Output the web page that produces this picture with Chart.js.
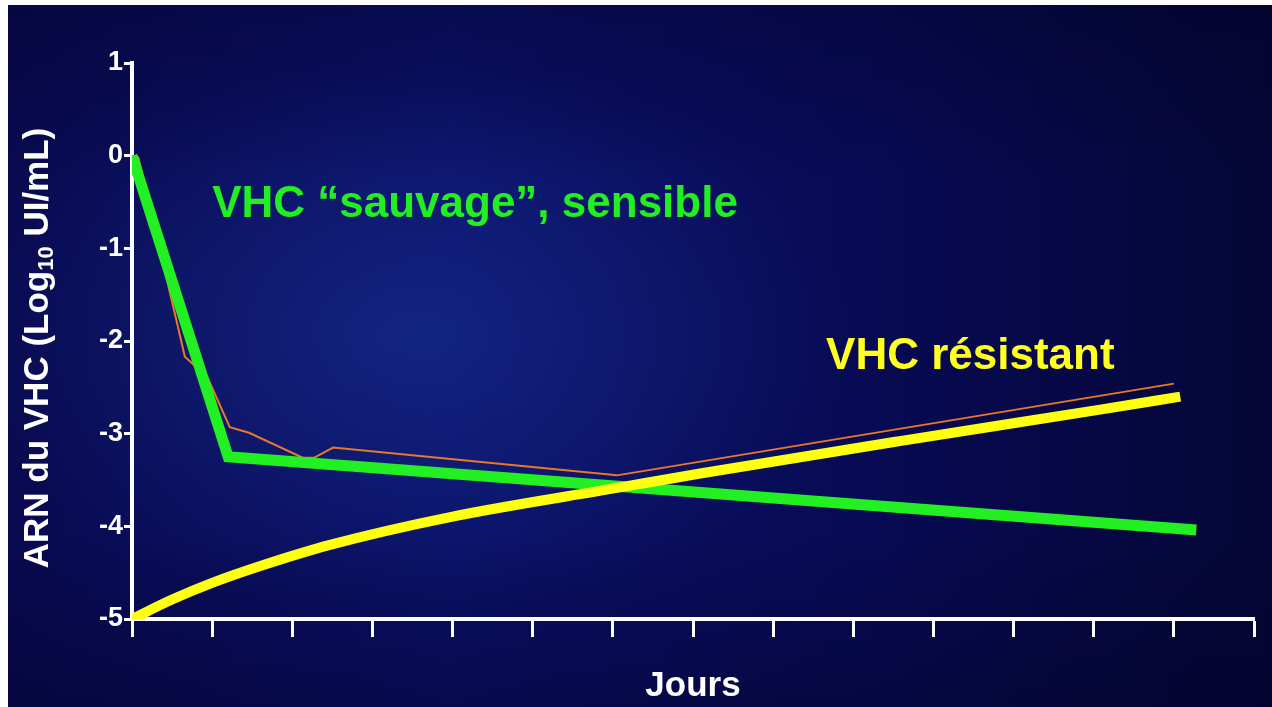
<!DOCTYPE html>
<html>
<head>
<meta charset="utf-8">
<script src="https://cdn.jsdelivr.net/npm/chart.js@4"></script>
<style>
  body { margin: 0; background: #fff; }
  #wrap { position: absolute; left: 8px; top: 5px; width: 1264px; height: 702px; }
</style>
</head>
<body>
<div id="wrap"><canvas id="vhc-chart"></canvas></div>
<script>
// days (x) and log10 viral load (y)
const dayTicks = [0, 14];
const logTicks = [-5, 1];

const sensibleDays = [0, 1.2, 13.28];
const sensibleLog = [0, -3.25, -4.04];

const resistantDays = [0, 0.5, 1.0, 1.63, 2.47, 3.97, 6.09, 7.09, 9.58, 12.08, 13.08];
const resistantLog = [-5, -4.79, -4.61, -4.42, -4.2, -3.9, -3.58, -3.43, -3.08, -2.74, -2.6];

const totalDays = [0, 0.08, 0.66, 0.94, 1.22, 1.46, 2.13, 2.27, 2.51, 6.05, 13.0];
const totalLog = [0, -0.02, -2.17, -2.39, -2.93, -2.99, -3.26, -3.26, -3.15, -3.45, -2.46];

const labels = [
    { text: "VHC \u201csauvage\u201d, sensible", day: 1.0, log: -0.53, color: "#22ee22" },
    { text: "VHC r\u00e9sistant", day: 8.66, log: -2.17, color: "#ffff22" },
];

const FONT = "'Liberation Sans', Arial, sans-serif";

function toPoints(xs, ys) {
    return xs.map((x, i) => ({ x: x, y: ys[i] }));
}

const background = {
    id: "background",
    beforeDraw(chart) {
        const { ctx, width, height } = chart;
        ctx.save();
        const lin = ctx.createLinearGradient(0, 0, width, 0);
        lin.addColorStop(0, "#090a50");
        lin.addColorStop(0.35, "#0a1066");
        lin.addColorStop(0.7, "#080a52");
        lin.addColorStop(1, "#050636");
        ctx.fillStyle = lin;
        ctx.fillRect(0, 0, width, height);

        ctx.save();
        ctx.translate(400, 330);
        ctx.scale(1.6, 1);
        const glow = ctx.createRadialGradient(0, 0, 10, 0, 0, 280);
        glow.addColorStop(0, "rgba(40,85,200,0.28)");
        glow.addColorStop(1, "rgba(40,85,200,0)");
        ctx.fillStyle = glow;
        ctx.fillRect(-400, -400, 900, 800);
        ctx.restore();

        const shade = ctx.createLinearGradient(0, 0, 0, height);
        shade.addColorStop(0, "rgba(0,0,30,0.3)");
        shade.addColorStop(0.25, "rgba(0,0,30,0)");
        shade.addColorStop(0.75, "rgba(0,0,30,0)");
        shade.addColorStop(1, "rgba(0,0,30,0.35)");
        ctx.fillStyle = shade;
        ctx.fillRect(0, 0, width, height);
        ctx.restore();
    },
};

const texts = {
    id: "texts",
    afterDraw(chart) {
        const { ctx } = chart;
        const xs = chart.scales.x;
        const ys = chart.scales.y;
        ctx.save();
        ctx.textBaseline = "middle";
        ctx.textAlign = "left";
        ctx.font = "bold 44px " + FONT;
        labels.forEach((l) => {
            ctx.fillStyle = l.color;
            ctx.fillText(l.text, xs.getPixelForValue(l.day), ys.getPixelForValue(l.log));
        });

        // y axis title with subscript
        const parts = [
            { t: "ARN du VHC (Log", size: 35, dy: 0 },
            { t: "10", size: 22, dy: 9 },
            { t: " UI/mL)", size: 35, dy: 0 },
        ];
        let total = 0;
        parts.forEach((p) => {
            ctx.font = "bold " + p.size + "px " + FONT;
            p.w = ctx.measureText(p.t).width;
            total += p.w;
        });
        ctx.translate(30, (ys.top + ys.bottom) / 2 + 7);
        ctx.rotate(-Math.PI / 2);
        ctx.fillStyle = "#ffffff";
        let x = -total / 2;
        parts.forEach((p) => {
            ctx.font = "bold " + p.size + "px " + FONT;
            ctx.fillText(p.t, x, p.dy);
            x += p.w;
        });
        ctx.restore();
    },
};

new Chart(document.getElementById("vhc-chart"), {
    type: "line",
    data: {
        datasets: [
            {
                label: "VHC résistant",
                data: toPoints(resistantDays, resistantLog),
                borderColor: "#ffff10",
                borderWidth: 10,
                borderCapStyle: "butt",
                cubicInterpolationMode: "monotone",
                pointRadius: 0,
                fill: false,
            },
            {
                label: "VHC sauvage",
                data: toPoints(sensibleDays, sensibleLog),
                borderColor: "#22f022",
                borderWidth: 11,
                borderCapStyle: "butt",
                borderJoinStyle: "miter",
                tension: 0,
                pointRadius: 0,
                fill: false,
            },
            {
                label: "Total",
                data: toPoints(totalDays, totalLog),
                borderColor: "#e8782a",
                borderWidth: 2,
                tension: 0,
                pointRadius: 0,
                fill: false,
            },
        ],
    },
    plugins: [background, texts],
    options: {
        responsive: true,
        maintainAspectRatio: false,
        animation: false,
        layout: {
            padding: { top: 58, right: 18, left: 0, bottom: 0 },
        },
        plugins: {
            legend: { display: false },
            tooltip: { enabled: false },
        },
        scales: {
            x: {
                type: "linear",
                min: dayTicks[0],
                max: dayTicks[1],
                afterFit: (scale) => {
                    scale.height = 88;
                },
                ticks: { display: false, stepSize: 1 },
                grid: {
                    display: true,
                    drawOnChartArea: false,
                    drawTicks: true,
                    tickLength: 18,
                    tickWidth: 3,
                    tickColor: "#ffffff",
                },
                border: { display: true, color: "#ffffff", width: 4 },
                title: {
                    display: true,
                    text: "Jours",
                    color: "#ffffff",
                    font: { family: FONT, size: 35, weight: "bold" },
                    padding: { top: 0, bottom: 0 },
                },
            },
            y: {
                min: logTicks[0],
                max: logTicks[1],
                afterFit: (scale) => {
                    scale.width = 124;
                },
                ticks: {
                    stepSize: 1,
                    color: "#ffffff",
                    padding: 1,
                    font: { family: FONT, size: 27, weight: "bold" },
                },
                grid: {
                    display: true,
                    drawOnChartArea: false,
                    drawTicks: true,
                    tickLength: 8,
                    tickWidth: 3,
                    tickColor: "#ffffff",
                },
                border: { display: true, color: "#ffffff", width: 4 },
            },
        },
    },
});
</script>
</body>
</html>
